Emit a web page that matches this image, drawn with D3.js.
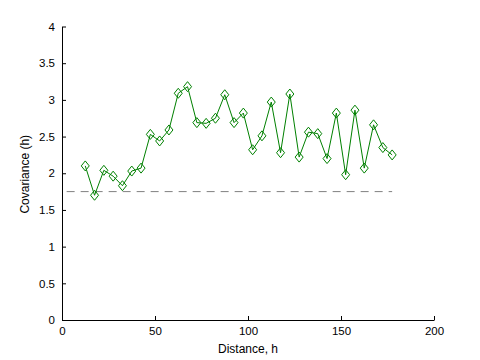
<!DOCTYPE html>
<html>
<head>
<meta charset="utf-8">
<script src="https://cdn.jsdelivr.net/npm/d3@7"></script>
<style>
  body { margin: 0; background: #fff; }
  text { font-family: "Liberation Sans", Arial, sans-serif; }
</style>
</head>
<body>
<script>
var lags = [12.5, 17.5, 22.5, 27.5, 32.5, 37.5, 42.5, 47.5, 52.5, 57.5,
            62.5, 67.5, 72.5, 77.5, 82.5, 87.5, 92.5, 97.5, 102.5, 107.5,
            112.5, 117.5, 122.5, 127.5, 132.5, 137.5, 142.5, 147.5, 152.5, 157.5,
            162.5, 167.5, 172.5, 177.5];
var covValues = [2.10, 1.70, 2.04, 1.96, 1.83, 2.03, 2.07, 2.53, 2.44, 2.59,
                 3.09, 3.18, 2.69, 2.68, 2.75, 3.07, 2.69, 2.82, 2.32, 2.51,
                 2.97, 2.28, 3.08, 2.22, 2.56, 2.54, 2.20, 2.82, 1.98, 2.86,
                 2.07, 2.66, 2.35, 2.25];
// horizontal reference (variance) line
var refX = [2.5, 177.5];
var refY = 1.75;

var xTicks = [0, 50, 100, 150, 200];
var yTicks = [0, 0.5, 1, 1.5, 2, 2.5, 3, 3.5, 4];

var svgWidth = 480, svgHeight = 360;
var margin = {top: 26.5, right: 46, bottom: 40, left: 62};
var chartWidth = svgWidth - margin.left - margin.right;
var chartHeight = svgHeight - margin.top - margin.bottom;

var svg = d3.select("body").append("svg")
  .attr("width", svgWidth)
  .attr("height", svgHeight);

var chart = svg.append("g")
  .attr("transform", "translate(" + margin.left + "," + margin.top + ")");

var xScale = d3.scaleLinear().domain([0, 200]).range([0, chartWidth]);
var yScale = d3.scaleLinear().domain([0, 4]).range([chartHeight, 0]);

// axes, ticks pointing inward like matlab
var xAxis = d3.axisBottom(xScale).tickValues(xTicks).tickSizeInner(-4).tickSizeOuter(0).tickPadding(7);
var yAxis = d3.axisLeft(yScale).tickValues(yTicks).tickSizeInner(-4).tickSizeOuter(0).tickPadding(7)
  .tickFormat(function(d) { return String(d); });

var gx = chart.append("g")
  .attr("transform", "translate(0," + chartHeight + ")")
  .call(xAxis);
var gy = chart.append("g").call(yAxis);

[gx, gy].forEach(function(g) {
  g.select(".domain").attr("stroke", "#000").attr("stroke-width", 1);
  g.selectAll(".tick line").attr("stroke", "#000");
  g.selectAll(".tick text").attr("fill", "#000").style("font-size", "11.5px");
});

// dashed reference line
chart.append("line")
  .attr("x1", xScale(refX[0]))
  .attr("x2", xScale(refX[1]))
  .attr("y1", yScale(refY))
  .attr("y2", yScale(refY))
  .attr("stroke", "#808080")
  .attr("stroke-width", 1)
  .attr("stroke-dasharray", "8,6");

var pts = lags.map(function(h, i) { return {h: h, v: covValues[i]}; });

var line = d3.line()
  .x(function(d) { return xScale(d.h); })
  .y(function(d) { return yScale(d.v); });

chart.append("path")
  .datum(pts)
  .attr("d", line)
  .attr("fill", "none")
  .attr("stroke", "#008000")
  .attr("stroke-width", 1);

// diamond markers
chart.selectAll(".marker")
  .data(pts)
  .enter().append("path")
  .attr("class", "marker")
  .attr("d", function(d) {
    var x = xScale(d.h), y = yScale(d.v);
    return "M" + x + "," + (y - 5) + "L" + (x + 4) + "," + y +
           "L" + x + "," + (y + 5) + "L" + (x - 4) + "," + y + "Z";
  })
  .attr("fill", "none")
  .attr("stroke", "#008000")
  .attr("stroke-width", 1);

// axis labels
chart.append("text")
  .attr("x", chartWidth / 2)
  .attr("y", chartHeight + 33)
  .attr("text-anchor", "middle")
  .style("font-size", "12px")
  .text("Distance, h");

chart.append("text")
  .attr("transform", "rotate(-90)")
  .attr("x", -(yScale(2) + 1))
  .attr("y", -33)
  .attr("text-anchor", "middle")
  .style("font-size", "12px")
  .text("Covariance (h)");
</script>
</body>
</html>
